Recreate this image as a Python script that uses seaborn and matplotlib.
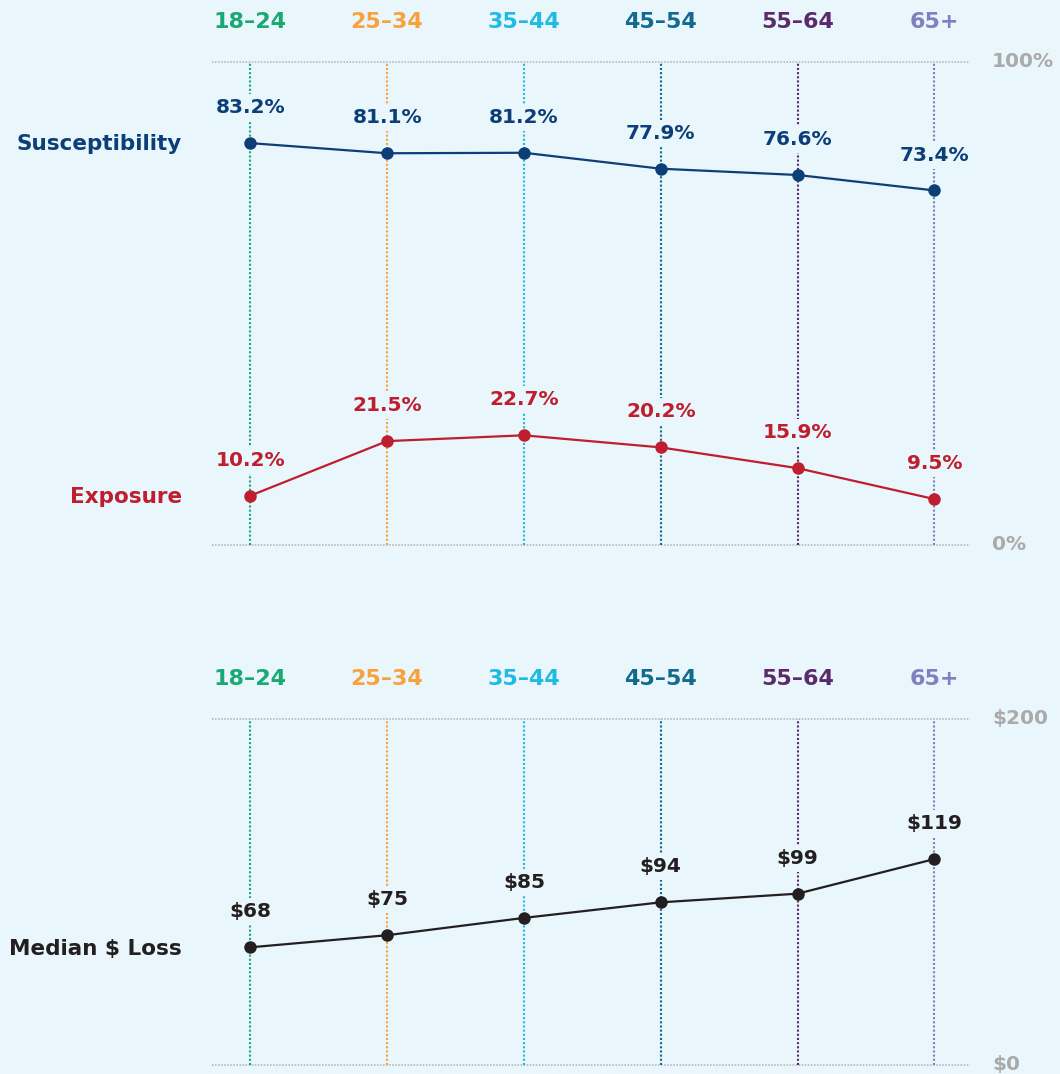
import matplotlib
matplotlib.use("Agg")
import matplotlib.pyplot as plt
import seaborn as sns
import pandas as pd

# age groups and their colours
ages = ["18–24", "25–34", "35–44", "45–54", "55–64", "65+"]
age_colors = ["#1aa974", "#f8a13d", "#1fbbe2", "#136a8f", "#5b2a6b", "#7f80c1"]

# series values
susceptibility = [83.2, 81.1, 81.2, 77.9, 76.6, 73.4]
exposure = [10.2, 21.5, 22.7, 20.2, 15.9, 9.5]
median_loss = [68, 75, 85, 94, 99, 119]

bg = "#e9f6fb"
navy = "#0c3f78"
red = "#be1e2d"
dark = "#231f20"
grey = "#aaaaaa"

sns.set_style("white", {"axes.facecolor": bg, "figure.facecolor": bg})
plt.rcParams["font.family"] = ["DejaVu Sans"]
plt.rcParams["font.weight"] = "bold"

df = pd.DataFrame({"age": ages, "pos": range(len(ages)),
                   "sus": susceptibility, "exp": exposure, "loss": median_loss})

fig = plt.figure(figsize=(10.6, 10.74), dpi=100)
ax1 = fig.add_axes([0.2, 0.4926, 0.715, 0.4497])
ax2 = fig.add_axes([0.2, 0.0084, 0.715, 0.3222])

def frame(ax, ymax, top_lab, bot_lab):
    ax.set_xlim(-0.28, 5.26)
    ax.set_ylim(0, ymax)
    for s in ax.spines.values():
        s.set_visible(False)
    ax.set_xticks([])
    ax.set_yticks([])
    ax.set_facecolor(bg)
    for y in (0, ymax):
        ax.axhline(y, color="#b0b0b0", lw=1.1, ls=(0, (1, 1)), zorder=1, clip_on=False)
    for i, (a, c) in enumerate(zip(ages, age_colors)):
        ax.axvline(i, color=c, lw=1.5, ls=(0, (1, 1)), zorder=1, clip_on=False)
        ax.annotate(a, xy=(i, 1), xycoords=("data", "axes fraction"),
                    xytext=(0, 29), textcoords="offset points",
                    ha="center", va="center", color=c, fontsize=16, fontweight="bold")
    ax.annotate(top_lab, xy=(1, ymax), xycoords=("axes fraction", "data"),
                xytext=(16, 0), textcoords="offset points",
                ha="left", va="center", color=grey, fontsize=14.5, fontweight="bold")
    ax.annotate(bot_lab, xy=(1, 0), xycoords=("axes fraction", "data"),
                xytext=(16, 0), textcoords="offset points",
                ha="left", va="center", color=grey, fontsize=14.5, fontweight="bold")

def series(ax, col, color, fmt, name):
    sns.lineplot(data=df, x="pos", y=col, ax=ax, color=color, lw=1.6,
                 marker="o", markersize=9, markeredgewidth=0, zorder=5)
    for x, v in zip(df["pos"], df[col]):
        ax.annotate(fmt.format(v), xy=(x, v), xytext=(0, 25.5), textcoords="offset points",
                    ha="center", va="center", color=color, fontsize=14.5, fontweight="bold",
                    bbox=dict(boxstyle="square,pad=0.2", fc=bg, ec="none"), zorder=4)
    ax.annotate(name, xy=(0, df[col].iloc[0]), xycoords=("axes fraction", "data"),
                xytext=(-21.5, -1), textcoords="offset points",
                ha="right", va="center", color=color, fontsize=15.5, fontweight="bold")

frame(ax1, 100, "100%", "0%")
series(ax1, "sus", navy, "{:.1f}%", "Susceptibility")
series(ax1, "exp", red, "{:.1f}%", "Exposure")

frame(ax2, 200, "$200", "$0")
series(ax2, "loss", dark, "${:d}", "Median $ Loss")

for ax in (ax1, ax2):
    ax.set_xlabel("")
    ax.set_ylabel("")

fig.savefig("out.png", dpi=100, facecolor=bg)
